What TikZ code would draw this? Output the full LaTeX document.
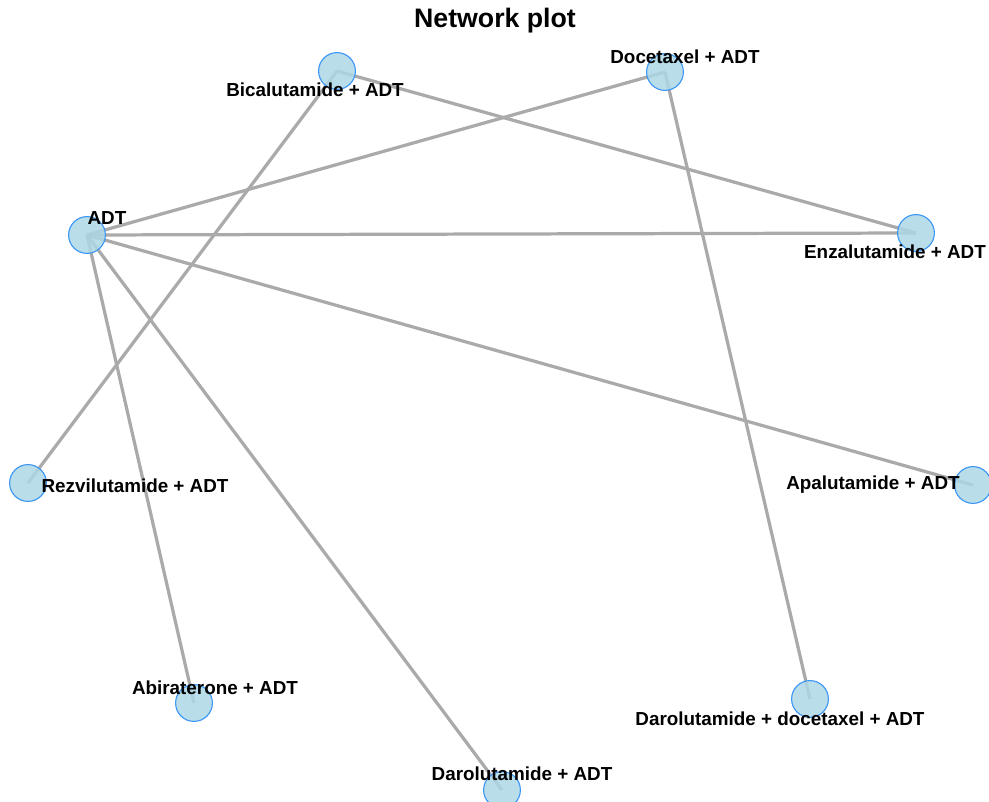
\documentclass[tikz,border=0pt]{standalone}
\usepackage{fontspec}
\setmainfont{Liberation Sans}
\usepackage{tikz}

\definecolor{vfill}{RGB}{173,216,230}
\definecolor{vline}{RGB}{60,150,245}
\definecolor{eline}{RGB}{170,170,170}

\begin{document}
\begin{tikzpicture}[x=0.025cm, y=-0.025cm,
    vertex/.style={circle, minimum size=0.92cm, inner sep=0pt, fill=vfill, fill opacity=0.85, draw=vline, line width=0.8pt},
    edge/.style={eline, line width=2.3pt},
    lab/.style={font=\fontsize{13.4}{15}\selectfont\bfseries, inner sep=0pt}]
            \useasboundingbox (0,0) rectangle (989,802);
            \coordinate (Bic) at (337,71);
            \coordinate (Doc) at (665,72);
            \coordinate (ADT) at (87,235);
            \coordinate (Enz) at (916,233);
            \coordinate (Rez) at (28,483);
            \coordinate (Apa) at (973,485);
            \coordinate (Abi) at (194,703);
            \coordinate (DarDoc) at (810,699);
            \coordinate (Dar) at (502,790);
            % edges
            \draw[edge] (ADT) -- (Doc);
            \draw[edge] (ADT) -- (Enz);
            \draw[edge] (ADT) -- (Apa);
            \draw[edge] (ADT) -- (Abi);
            \draw[edge] (ADT) -- (Dar);
            \draw[edge] (Bic) -- (Enz);
            \draw[edge] (Bic) -- (Rez);
            \draw[edge] (Doc) -- (DarDoc);
            % vertices
            \foreach \v in {Bic,Doc,ADT,Enz,Rez,Apa,Abi,DarDoc,Dar}
                \node[vertex] (n\v) at (\v) {};
            % labels
            \node[lab] (lBic) at (315,90) {Bicalutamide + ADT};
            \node[lab] (lDoc) at (685,57) {Docetaxel + ADT};
            \node[lab] (lADT) at (107,218) {ADT};
            \node[lab] (lEnz) at (895,252) {Enzalutamide + ADT};
            \node[lab] (lRez) at (135,486) {Rezvilutamide + ADT};
            \node[lab] (lApa) at (873,485) {Apalutamide + ADT};
            \node[lab] (lAbi) at (215,688) {Abiraterone + ADT};
            \node[lab] (lDarDoc) at (780,719) {Darolutamide + docetaxel + ADT};
            \node[lab] (lDar) at (522,774) {Darolutamide + ADT};
            \node[font=\fontsize{19}{22}\selectfont\bfseries] (title) at (495,21) {Network plot};
        \end{tikzpicture}
\end{document}
